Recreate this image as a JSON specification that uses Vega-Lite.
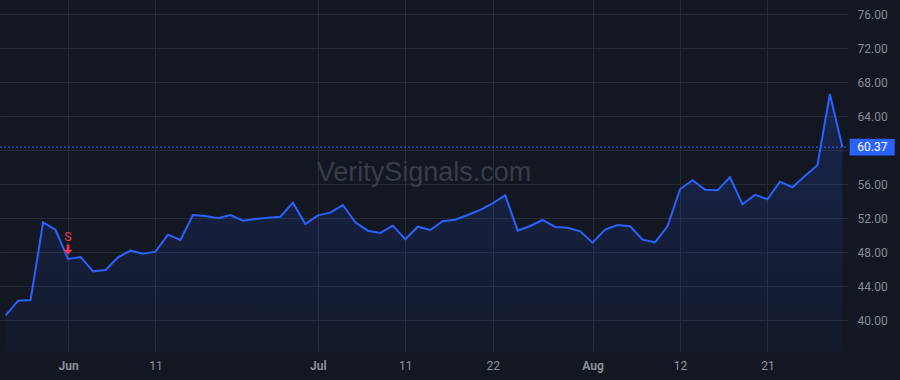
{
  "$schema": "https://vega.github.io/schema/vega-lite/v6.json",
  "autosize": "none",
  "width": 848,
  "height": 352,
  "padding": {"left": 0, "top": 0, "right": 52, "bottom": 28},
  "background": "#131722",
  "config": {
    "view": {"stroke": null},
    "font": "Roboto",
    "axis": {"labelOverlap": false, "labelFlush": false, "labelSeparation": 0},
    "axisY": {"labelOverlap": false},
    "axisQuantitative": {"labelOverlap": false}
  },
  "datasets": {
    "prices": [
      {"date": "2025-05-23", "close": 40.58},
      {"date": "2025-05-27", "close": 42.31},
      {"date": "2025-05-28", "close": 42.39},
      {"date": "2025-05-29", "close": 51.53},
      {"date": "2025-05-30", "close": 50.62},
      {"date": "2025-06-02", "close": 47.21},
      {"date": "2025-06-03", "close": 47.45},
      {"date": "2025-06-04", "close": 45.76},
      {"date": "2025-06-05", "close": 45.92},
      {"date": "2025-06-06", "close": 47.41},
      {"date": "2025-06-09", "close": 48.19},
      {"date": "2025-06-10", "close": 47.84},
      {"date": "2025-06-11", "close": 48.07},
      {"date": "2025-06-12", "close": 50.07},
      {"date": "2025-06-13", "close": 49.45},
      {"date": "2025-06-16", "close": 52.39},
      {"date": "2025-06-17", "close": 52.27},
      {"date": "2025-06-18", "close": 52.0},
      {"date": "2025-06-20", "close": 52.39},
      {"date": "2025-06-23", "close": 51.72},
      {"date": "2025-06-24", "close": 51.92},
      {"date": "2025-06-25", "close": 52.07},
      {"date": "2025-06-26", "close": 52.19},
      {"date": "2025-06-27", "close": 53.84},
      {"date": "2025-06-30", "close": 51.33},
      {"date": "2025-07-01", "close": 52.35},
      {"date": "2025-07-02", "close": 52.66},
      {"date": "2025-07-03", "close": 53.56},
      {"date": "2025-07-07", "close": 51.53},
      {"date": "2025-07-08", "close": 50.54},
      {"date": "2025-07-09", "close": 50.28},
      {"date": "2025-07-10", "close": 51.13},
      {"date": "2025-07-11", "close": 49.53},
      {"date": "2025-07-14", "close": 51.01},
      {"date": "2025-07-15", "close": 50.62},
      {"date": "2025-07-16", "close": 51.65},
      {"date": "2025-07-17", "close": 51.84},
      {"date": "2025-07-18", "close": 52.39},
      {"date": "2025-07-21", "close": 52.98},
      {"date": "2025-07-22", "close": 53.76},
      {"date": "2025-07-23", "close": 54.71},
      {"date": "2025-07-24", "close": 50.54},
      {"date": "2025-07-25", "close": 51.09},
      {"date": "2025-07-28", "close": 51.8},
      {"date": "2025-07-29", "close": 50.98},
      {"date": "2025-07-30", "close": 50.88},
      {"date": "2025-07-31", "close": 50.47},
      {"date": "2025-08-01", "close": 49.13},
      {"date": "2025-08-04", "close": 50.66},
      {"date": "2025-08-05", "close": 51.21},
      {"date": "2025-08-06", "close": 51.06},
      {"date": "2025-08-07", "close": 49.48},
      {"date": "2025-08-08", "close": 49.17},
      {"date": "2025-08-11", "close": 51.06},
      {"date": "2025-08-12", "close": 55.41},
      {"date": "2025-08-13", "close": 56.47},
      {"date": "2025-08-14", "close": 55.37},
      {"date": "2025-08-15", "close": 55.29},
      {"date": "2025-08-18", "close": 56.82},
      {"date": "2025-08-19", "close": 53.65},
      {"date": "2025-08-20", "close": 54.76},
      {"date": "2025-08-21", "close": 54.24},
      {"date": "2025-08-22", "close": 56.31},
      {"date": "2025-08-25", "close": 55.65},
      {"date": "2025-08-26", "close": 56.98},
      {"date": "2025-08-27", "close": 58.24},
      {"date": "2025-08-28", "close": 66.62},
      {"date": "2025-08-29", "close": 60.37}
    ],
    "last": [{"date": "2025-08-29", "close": 60.37, "label": "60.37"}],
    "signals": [{"date": "2025-06-02", "close": 47.21, "signal": "S"}],
    "watermark": [{"text": "VeritySignals.com"}]
  },
  "layer": [
    {
      "data": {"name": "watermark"},
      "mark": {"type": "text", "x": {"expr": "width/2"}, "y": {"expr": "height/2 - 3"}, "align": "center", "baseline": "middle", "font": "Liberation Sans", "fontSize": 27, "color": "#383c47"},
      "encoding": {"text": {"field": "text"}}
    },
    {
      "encoding": {
        "x": {
          "field": "date", "type": "ordinal",
          "scale": {"type": "point", "padding": 0.45},
          "axis": {
            "title": null,
            "values": ["2025-06-02", "2025-06-11", "2025-07-01", "2025-07-11", "2025-07-22", "2025-08-01", "2025-08-12", "2025-08-21"],
            "labelExpr": "datum.value == '2025-06-02' ? 'Jun' : datum.value == '2025-07-01' ? 'Jul' : datum.value == '2025-08-01' ? 'Aug' : toString(toNumber(slice(datum.value, 8)))",
            "labelAngle": 0,
            "labelOverlap": false,
            "labelFlush": false,
            "labelFontSize": 12,
            "labelColor": "#8c8f98",
            "labelFontWeight": {"condition": {"test": "datum.value == '2025-06-02' || datum.value == '2025-07-01' || datum.value == '2025-08-01'", "value": "bold"}, "value": "normal"},
            "labelPadding": 8,
            "ticks": false,
            "domain": false,
            "grid": true,
            "gridColor": "#262a35",
            "gridWidth": 1
          }
        },
        "y": {
          "field": "close", "type": "quantitative",
          "scale": {"domain": [36.27, 77.68], "nice": false, "zero": false},
          "axis": {
            "title": null,
            "orient": "right",
            "values": [40, 44, 48, 52, 56, 60, 64, 68, 72, 76],
            "labelExpr": "datum.value == 60 ? '' : format(datum.value, '.2f')",
            "labelOverlap": false,
            "labelFlush": false,
            "labelFontSize": 12,
            "labelColor": "#878b94",
            "labelPadding": 9,
            "ticks": false,
            "domain": false,
            "grid": true,
            "gridColor": "#262a35",
            "gridWidth": 1
          }
        }
      },
      "layer": [
        {
          "data": {"name": "prices"},
          "mark": {"type": "area", "clip": true, "color": {"gradient": "linear", "x1": 0, "y1": 0, "x2": 0, "y2": 1, "stops": [{"offset": 0, "color": "rgba(41,98,255,0.2)"}, {"offset": 1, "color": "rgba(41,98,255,0.04)"}]}},
          "encoding": {"y2": {"datum": 36.27}}
        },
        {
          "data": {"name": "prices"},
          "mark": {"type": "line", "color": "#2962ff", "strokeWidth": 2}
        },
        {
          "data": {"name": "last"},
          "mark": {"type": "rule", "color": "#3d66f0", "strokeWidth": 1, "strokeDash": [2, 2]},
          "encoding": {"x": {"value": 0}, "x2": {"value": "width"}}
        },
        {
          "data": {"name": "last"},
          "mark": {"type": "point", "shape": "M0.324,-0.37L2.324,-0.37L2.324,0.37L0.324,0.37Z", "size": 2025, "filled": true, "fill": "#2962ff", "stroke": null, "opacity": 1}
        },
        {
          "data": {"name": "last"},
          "mark": {"type": "text", "dx": 30, "align": "center", "baseline": "middle", "fontSize": 12, "color": "#ffffff"},
          "encoding": {"text": {"field": "label"}}
        },
        {
          "data": {"name": "signals"},
          "mark": {"type": "point", "shape": "M-0.26,-0.94L0.26,-0.94L0.26,0.06L0.88,0.06L0,0.94L-0.88,0.06L-0.26,0.06Z", "size": 110, "filled": true, "fill": "#f23645", "stroke": null, "opacity": 1, "yOffset": -9.5}
        },
        {
          "data": {"name": "signals"},
          "mark": {"type": "text", "dy": -22, "align": "center", "baseline": "middle", "fontSize": 12.5, "color": "#f23645"},
          "encoding": {"text": {"field": "signal"}}
        }
      ]
    }
  ]
}
